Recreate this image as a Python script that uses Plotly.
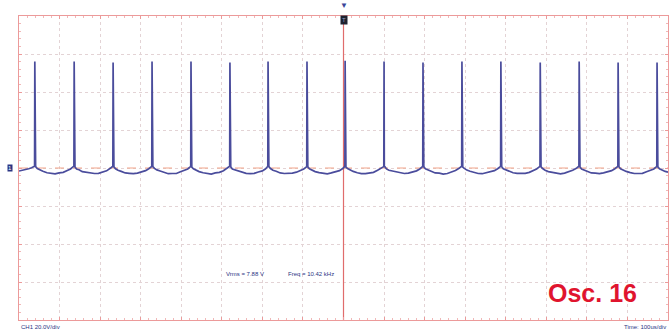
import plotly.graph_objects as go

# ---- data ----
# spike (pulse) times in microseconds (time base 100 us/div, trigger at centre)
spike_times_us = [-761, -664, -568, -472, -376, -280, -186, -90, 4,
                  100, 196, 292, 388, 485, 581, 677, 773]
# spike peak voltages (V), CH1 20 V/div
spike_peaks_v = [56, 56, 55.5, 56, 56, 55.5, 56, 56, 56.5,
                 56, 55.5, 56, 56, 55.5, 56, 55.5, 55.5]
# sample times after each spike (us) for the trace between spikes
between_offsets_us = [2, 6, 12, 20, 30, 40, 50, 60, 70, 80, 88, 94]
# trace voltage between consecutive spikes (V), one row per period
between_volts = [
    [0.7, -0.3, -1.1, -1.7, -2.5, -2.7, -3.1, -2.6, -2.3, -1.3, -0.5, 0.6],
    [0.5, -0.5, -0.9, -1.9, -2.3, -2.9, -2.9, -2.8, -2.1, -1.5, -0.3, 0.7],
    [0.6, -0.4, -1.2, -1.8, -2.6, -2.8, -3.0, -2.7, -2.2, -1.4, -0.4, 0.5],
    [0.7, -0.2, -1.0, -1.6, -2.4, -3.0, -2.9, -2.9, -2.0, -1.2, -0.5, 0.6],
    [0.5, -0.4, -1.1, -1.9, -2.5, -2.7, -3.2, -2.6, -2.3, -1.4, -0.3, 0.7],
    [0.6, -0.5, -0.9, -1.8, -2.3, -2.8, -3.0, -2.8, -2.1, -1.5, -0.4, 0.6],
    [0.7, -0.3, -1.2, -1.7, -2.6, -2.9, -2.9, -2.7, -2.2, -1.3, -0.5, 0.5],
    [0.6, -0.4, -1.0, -1.9, -2.4, -2.7, -3.1, -2.6, -2.0, -1.4, -0.3, 0.7],
    [0.5, -0.3, -1.1, -1.8, -2.5, -3.0, -3.0, -2.8, -2.3, -1.2, -0.4, 0.6],
    [0.7, -0.5, -1.2, -1.6, -2.3, -2.8, -2.9, -2.7, -2.1, -1.5, -0.5, 0.5],
    [0.6, -0.4, -0.9, -1.9, -2.6, -2.7, -3.2, -2.9, -2.2, -1.3, -0.3, 0.7],
    [0.5, -0.2, -1.1, -1.7, -2.4, -2.9, -3.0, -2.6, -2.0, -1.4, -0.4, 0.6],
    [0.7, -0.4, -1.0, -1.8, -2.5, -2.8, -2.9, -2.8, -2.3, -1.5, -0.5, 0.5],
    [0.6, -0.3, -1.2, -1.9, -2.3, -3.0, -3.1, -2.7, -2.1, -1.2, -0.3, 0.7],
    [0.5, -0.5, -1.0, -1.6, -2.6, -2.7, -3.0, -2.6, -2.2, -1.4, -0.4, 0.6],
    [0.7, -0.4, -1.1, -1.8, -2.4, -2.9, -2.9, -2.8, -2.0, -1.3, -0.5, 0.6],
]
lead_times_us = [-800, -792, -784, -776, -769, -764]
lead_volts = [-1.6, -1.3, -0.9, -0.4, 0.1, 0.6]
tail_offsets_us = [2, 6, 12, 20, 27]
tail_volts = [0.6, -0.4, -1.1, -1.8, -2.2]

# text
vrms_text = "Vrms = 7.88 V"
freq_text = "Freq = 10.42 kHz"
ch_text = "CH1 20.0V/div"
time_text = "Time: 100us/div"
label_text = "Osc. 16"

# ---- build trace ----
t, v = list(lead_times_us), list(lead_volts)
for i, ts in enumerate(spike_times_us):
    t += [ts - 0.6, ts, ts + 0.6]
    v += [0.9, spike_peaks_v[i], 0.9]
    if i < len(between_volts):
        t += [ts + o for o in between_offsets_us]
        v += between_volts[i]
    else:
        t += [ts + o for o in tail_offsets_us]
        v += tail_volts

fig = go.Figure()
fig.add_trace(go.Scatter(x=t, y=v, mode="lines",
                         line=dict(color="#4a4c9c", width=1.7),
                         hoverinfo="skip", showlegend=False))

grid = "#e3d3d5"
pink = "#ec9a9a"
fig.update_xaxes(range=[-800, 800], dtick=100, tick0=0, showticklabels=False,
                 showgrid=True, gridcolor=grid, griddash="dot", gridwidth=1,
                 zeroline=False, showline=True, linecolor=pink, linewidth=1,
                 mirror="ticks", ticks="inside", ticklen=3, tickcolor=pink,
                 minor=dict(dtick=20, ticks="inside", ticklen=2, tickcolor="#f0b8b8"))
fig.update_yaxes(range=[-80, 80], dtick=20, tick0=0, showticklabels=False,
                 showgrid=True, gridcolor=grid, griddash="dot", gridwidth=1,
                 zeroline=False, showline=True, linecolor=pink, linewidth=1,
                 mirror="ticks", ticks="inside", ticklen=3, tickcolor=pink,
                 minor=dict(dtick=4, ticks="inside", ticklen=2, tickcolor="#f0b8b8"))

# centre lines
fig.add_shape(type="line", x0=0, x1=0, y0=-80, y1=80, xref="x", yref="y",
              line=dict(color="#e06c6c", width=1.2), layer="between")
fig.add_shape(type="line", x0=-800, x1=800, y0=0, y1=0, xref="x", yref="y",
              line=dict(color="#f2a58a", width=1, dash="dash"), layer="between")

small = dict(family="Liberation Sans, Arial", size=6, color="#2b3583")
fig.add_annotation(x=-243, y=-55.8, text=vrms_text, showarrow=False, font=small)
fig.add_annotation(x=-80, y=-55.8, text=freq_text, showarrow=False, font=small)
fig.add_annotation(x=0.0, y=-0.022, xref="paper", yref="paper", text=ch_text,
                   showarrow=False, xanchor="left", yanchor="middle", font=small)
fig.add_annotation(x=1.0, y=-0.022, xref="paper", yref="paper", text=time_text,
                   showarrow=False, xanchor="right", yanchor="middle", font=small)
fig.add_annotation(x=0.883, y=0.089, xref="paper", yref="paper",
                   text="<b>" + label_text + "</b>", showarrow=False,
                   xanchor="center", yanchor="middle",
                   font=dict(family="Liberation Sans, Arial", size=25, color="#e0142e"))
# channel marker and trigger marker
fig.add_annotation(x=-0.014, y=0, xref="paper", yref="y", text="1",
                   showarrow=False, bgcolor="#2b3583", borderpad=0,
                   xanchor="center", yanchor="middle",
                   font=dict(family="Liberation Sans, Arial", size=6, color="white"))
fig.add_annotation(x=0, y=1.038, xref="x", yref="paper", text="▼",
                   showarrow=False, xanchor="center", yanchor="middle",
                   font=dict(size=8, color="#3b4599"))
fig.add_annotation(x=0, y=0.988, xref="x", yref="paper", text="T",
                   showarrow=False, bgcolor="#1e2230", borderpad=1,
                   xanchor="center", yanchor="middle",
                   font=dict(family="Liberation Sans, Arial", size=6, color="#9aa0c0"))

fig.update_layout(width=671, height=331, margin=dict(l=19, r=3, t=16, b=11),
                  paper_bgcolor="white", plot_bgcolor="white")
fig.write_html("out.html", config={"displayModeBar": False},
               post_script="document.body.style.margin='0px';document.body.style.padding='0px';")
